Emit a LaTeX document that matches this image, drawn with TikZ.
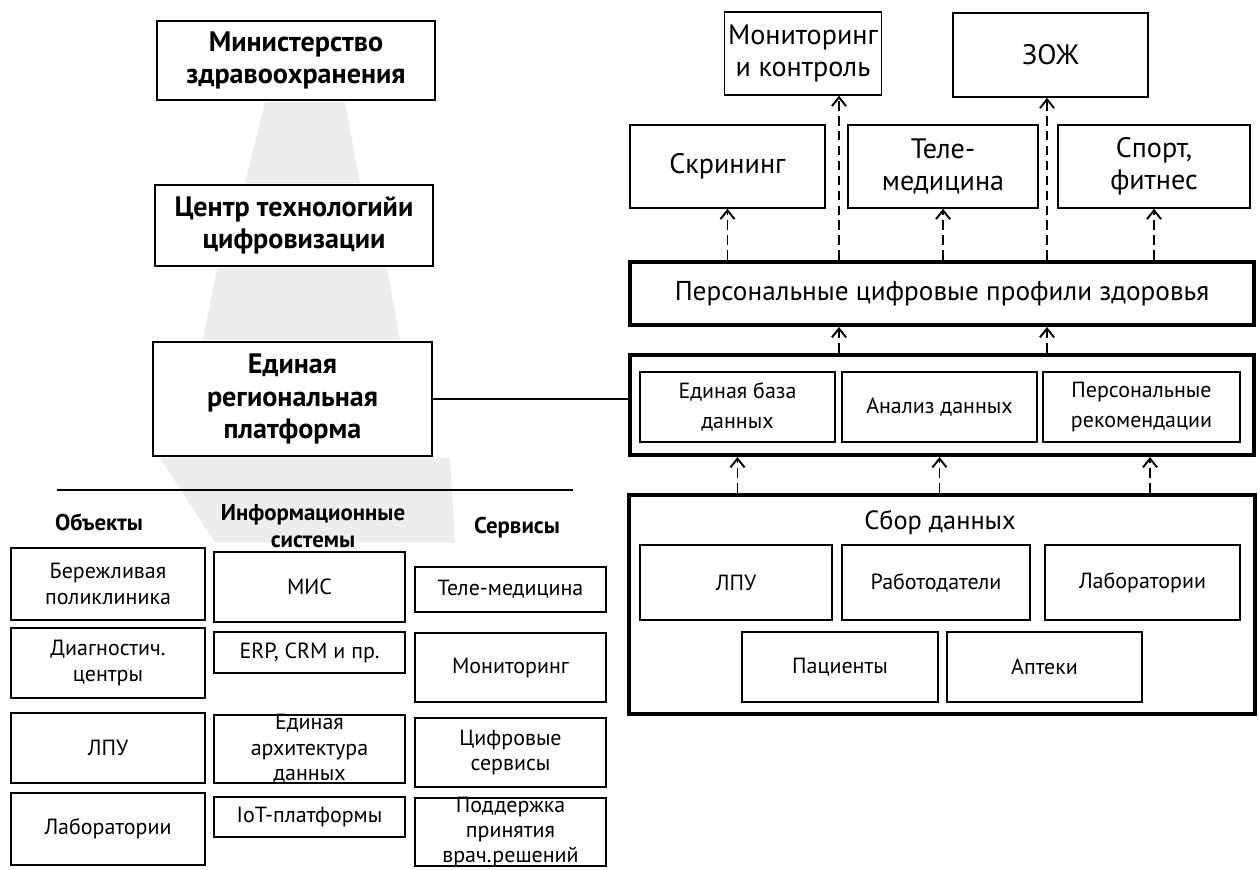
\documentclass[tikz,border=0pt]{standalone}
\usepackage{fontspec}
\setmainfont{PT Sans}
\usetikzlibrary{arrows.meta}
\tikzset{
  box/.style={draw,line width=1.1pt,align=center,inner sep=1pt},
  lbox/.style={box,font=\fontsize{12.5}{14.5}\selectfont},
  tbox/.style={draw,line width=0.9pt,align=center,inner sep=2pt,font=\fontsize{16}{18.5}\selectfont},
  bbox/.style={box,font=\bfseries\fontsize{16}{18.5}\selectfont},
  frame/.style={draw,line width=2.3pt},
  ibox/.style={box,font=\fontsize{12.5}{17}\selectfont},
  hdr/.style={align=center,font=\bfseries\fontsize{13}{15.5}\selectfont},
  upar/.style={-{Straight Barb[length=5pt,width=8pt]},line width=1.1pt,dash pattern=on 5.5pt off 3pt},
  haze/.style={fill=black!7}
}
\begin{document}
\begin{tikzpicture}
  \useasboundingbox (0,0) rectangle (25.18,-17.38);
  \fill[haze] (5.3,-2.04) -- (6.9,-2.04) -- (7.2,-3.66) -- (4.9,-3.66) -- cycle;
  \fill[haze] (4.34,-5.36) -- (7.74,-5.36) -- (8.0,-6.8) -- (4.06,-6.8) -- cycle;
  \fill[haze] (3.2,-9.16) -- (9.0,-9.16) -- (9.1,-10.85) -- (4.3,-10.85) -- cycle;

  \node[bbox,minimum width=5.56cm,minimum height=1.58cm] (min) at (5.92,-1.21) {Министерство\\здравоохранения};
  \node[bbox,minimum width=5.56cm,minimum height=1.62cm] (ctr) at (5.88,-4.51) {Центр технологийи\\цифровизации};
  \node[bbox,minimum width=5.58cm,minimum height=2.28cm] (plat) at (5.85,-7.98) {Единая\\региональная\\платформа};
  \coordinate (rl) at (1.14,-9.8);
  \coordinate (rr) at (11.46,-9.8);
  \draw[line width=1.1pt] (rl) -- (rr);

  \node[hdr] (hobj) at (1.98,-10.44) {Объекты};
  \node[hdr] (hsys) at (6.26,-10.52) {Информационные\\системы};
  \node[hdr] (hsrv) at (10.34,-10.56) {Сервисы};

  \node[lbox,minimum width=3.88cm,minimum height=1.44cm] (o1) at (2.16,-11.68) {Бережливая\\поликлиника};
  \node[lbox,minimum width=3.88cm,minimum height=1.40cm] (o2) at (2.16,-13.26) {Диагностич.\\центры};
  \node[lbox,minimum width=3.88cm,minimum height=1.40cm] (o3) at (2.16,-14.96) {ЛПУ};
  \node[lbox,minimum width=3.88cm,minimum height=1.44cm] (o4) at (2.16,-16.58) {Лаборатории};

  \node[lbox,minimum width=3.82cm,minimum height=1.40cm] (s1) at (6.19,-11.74) {МИС};
  \node[lbox,minimum width=3.82cm,minimum height=0.82cm] (s2) at (6.19,-13.05) {ERP, CRM и пр.};
  \node[lbox,minimum width=3.82cm,minimum height=1.36cm] (s3) at (6.19,-14.98) {};
  \node[lbox,draw=none] (s3t) at (s3) {Единая\\архитектура\\данных};
  \node[lbox,minimum width=3.82cm,minimum height=0.80cm] (s4) at (6.19,-16.34) {IoT-платформы};

  \node[lbox,minimum width=3.82cm,minimum height=0.90cm] (v1) at (10.21,-11.79) {Теле-медицина};
  \node[lbox,minimum width=3.82cm,minimum height=1.38cm] (v2) at (10.21,-13.35) {Мониторинг};
  \node[lbox,minimum width=3.82cm,minimum height=1.38cm] (v3) at (10.21,-15.05) {Цифровые\\сервисы};
  \node[lbox,minimum width=3.82cm,minimum height=1.36cm] (v4) at (10.21,-16.64) {};
  \node[lbox,draw=none] (v4t) at (v4) {Поддержка\\принятия\\врач.решений};

  \node[tbox,minimum width=2.52cm,minimum height=1.66cm] (mon) at (16.06,-1.07) {Мониторинг\\и контроль};
  \node[tbox,minimum width=3.9cm,minimum height=1.68cm] (zoj) at (21.01,-1.10) {ЗОЖ};
  \node[tbox,minimum width=3.9cm,minimum height=1.66cm] (scr) at (14.55,-3.33) {Скрининг};
  \node[tbox,minimum width=3.8cm,minimum height=1.66cm] (tele) at (18.86,-3.33) {Теле-\\медицина};
  \node[tbox,minimum width=3.84cm,minimum height=1.66cm] (spo) at (23.08,-3.33) {Спорт,\\фитнес};

  \node[frame,minimum width=12.48cm,minimum height=1.26cm,font=\fontsize{15.5}{18}\selectfont] (prof) at (18.84,-5.87) {Персональные цифровые профили здоровья};

  \node[frame,minimum width=12.48cm,minimum height=2.0cm] (mid) at (18.84,-8.1) {};
  \node[ibox,minimum width=3.9cm,minimum height=1.4cm] (db) at (14.75,-8.14) {Единая база\\данных};
  \node[ibox,minimum width=3.9cm,minimum height=1.4cm] (an) at (18.79,-8.14) {Анализ данных};
  \node[ibox,minimum width=3.94cm,minimum height=1.4cm] (rec) at (22.83,-8.14) {Персональные\\рекомендации};

  \node[frame,minimum width=12.52cm,minimum height=4.38cm] (col) at (18.84,-12.09) {};
  \node[font=\fontsize{15}{18}\selectfont] (colt) at (18.8,-10.46) {Сбор данных};
  \node[ibox,minimum width=3.84cm,minimum height=1.5cm] (lpu) at (14.72,-11.65) {ЛПУ};
  \node[ibox,minimum width=3.76cm,minimum height=1.5cm] (emp) at (18.72,-11.65) {Работодатели};
  \node[ibox,minimum width=3.9cm,minimum height=1.5cm] (lab) at (22.85,-11.65) {Лаборатории};
  \node[ibox,minimum width=3.92cm,minimum height=1.4cm] (pat) at (16.8,-13.34) {Пациенты};
  \node[ibox,minimum width=3.9cm,minimum height=1.4cm] (pha) at (20.89,-13.34) {Аптеки};

  \draw[line width=1.1pt] (plat.east) -- (plat.east -| mid.west);

  \coordinate (xa) at (16.78,0);
  \coordinate (xb) at (20.94,0);
  \coordinate (xc) at (23.0,0);
  \draw[upar] (prof.north -| scr) -- (scr.south);
  \draw[upar] (prof.north -| xa) -- (mon.south -| xa);
  \draw[upar] (prof.north -| tele) -- (tele.south);
  \draw[upar] (prof.north -| xb) -- (zoj.south -| xb);
  \draw[upar] (prof.north -| spo) -- (spo.south);
  \draw[upar] (mid.north -| xa) -- (prof.south -| xa);
  \draw[upar] (mid.north -| xb) -- (prof.south -| xb);
  \draw[upar] (col.north -| db) -- (mid.south -| db);
  \draw[upar] (col.north -| an) -- (mid.south -| an);
  \draw[upar] (col.north -| xc) -- (mid.south -| xc);
\end{tikzpicture}
\end{document}
